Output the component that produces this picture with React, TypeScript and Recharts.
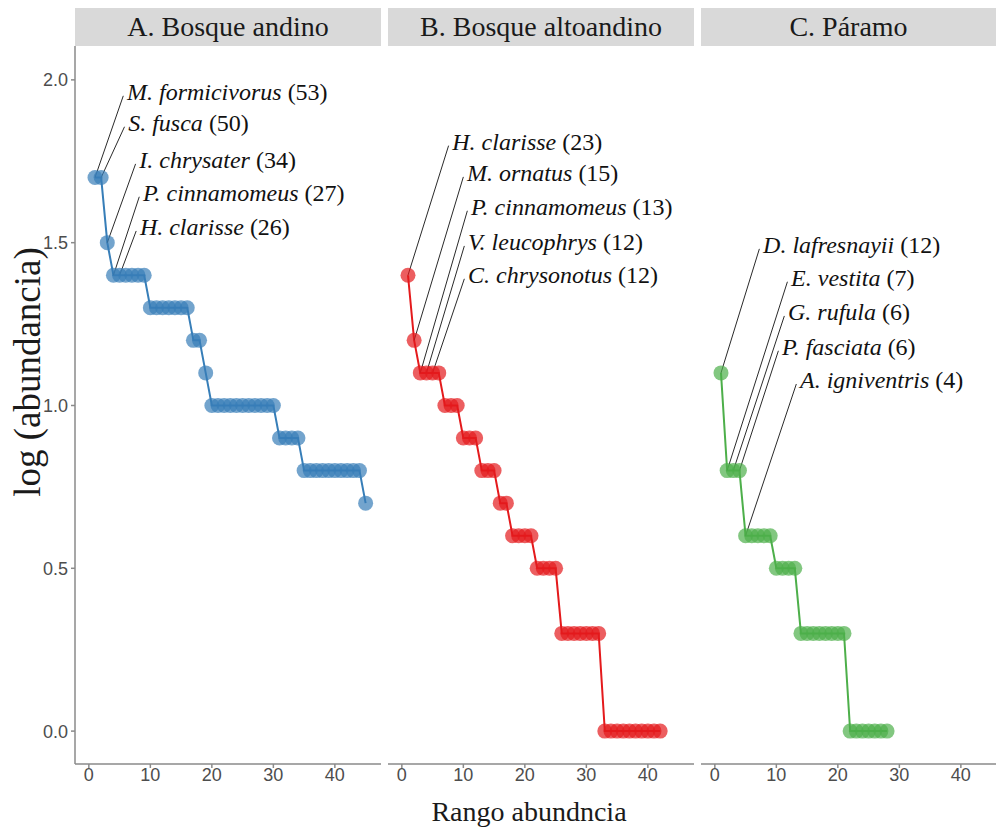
import React from 'react';
import { ComposedChart, Line, Scatter, XAxis, YAxis } from 'recharts';

// Panel A: Bosque andino — log10 abundance by rank (rank = position + 1)
const andinoValues = [
  1.7, 1.7, 1.5, 1.4, 1.4, 1.4, 1.4, 1.4, 1.4, 1.3,
  1.3, 1.3, 1.3, 1.3, 1.3, 1.3, 1.2, 1.2, 1.1, 1.0,
  1.0, 1.0, 1.0, 1.0, 1.0, 1.0, 1.0, 1.0, 1.0, 1.0,
  0.9, 0.9, 0.9, 0.9, 0.8, 0.8, 0.8, 0.8, 0.8, 0.8,
  0.8, 0.8, 0.8, 0.8, 0.7,
];

// Panel B: Bosque altoandino
const altoandinoValues = [
  1.4, 1.2, 1.1, 1.1, 1.1, 1.1, 1.0, 1.0, 1.0, 0.9,
  0.9, 0.9, 0.8, 0.8, 0.8, 0.7, 0.7, 0.6, 0.6, 0.6,
  0.6, 0.5, 0.5, 0.5, 0.5, 0.3, 0.3, 0.3, 0.3, 0.3,
  0.3, 0.3, 0.0, 0.0, 0.0, 0.0, 0.0, 0.0, 0.0, 0.0,
  0.0, 0.0,
];

// Panel C: Páramo
const paramoValues = [
  1.1, 0.8, 0.8, 0.8, 0.6, 0.6, 0.6, 0.6, 0.6, 0.5,
  0.5, 0.5, 0.5, 0.3, 0.3, 0.3, 0.3, 0.3, 0.3, 0.3,
  0.3, 0.0, 0.0, 0.0, 0.0, 0.0, 0.0, 0.0,
];

// Species labels: rank of the labelled point, label anchor (data coords)
const andinoLabels = [
  { name: 'M. formicivorus', count: 53, rank: 1, lx: 6.2, ly: 1.963 },
  { name: 'S. fusca', count: 50, rank: 2, lx: 6.4, ly: 1.868 },
  { name: 'I. chrysater', count: 34, rank: 3, lx: 8.2, ly: 1.754 },
  { name: 'P. cinnamomeus', count: 27, rank: 4, lx: 8.8, ly: 1.653 },
  { name: 'H. clarisse', count: 26, rank: 5, lx: 8.3, ly: 1.548 },
];

const altoandinoLabels = [
  { name: 'H. clarisse', count: 23, rank: 1, lx: 8.2, ly: 1.81 },
  { name: 'M. ornatus', count: 15, rank: 2, lx: 10.6, ly: 1.714 },
  { name: 'P. cinnamomeus', count: 13, rank: 3, lx: 11.25, ly: 1.61 },
  { name: 'V. leucophrys', count: 12, rank: 4, lx: 10.76, ly: 1.502 },
  { name: 'C. chrysonotus', count: 12, rank: 5, lx: 10.76, ly: 1.401 },
];

const paramoLabels = [
  { name: 'D. lafresnayii', count: 12, rank: 1, lx: 7.84, ly: 1.493 },
  { name: 'E. vestita', count: 7, rank: 2, lx: 12.4, ly: 1.392 },
  { name: 'G. rufula', count: 6, rank: 3, lx: 11.9, ly: 1.287 },
  { name: 'P. fasciata', count: 6, rank: 4, lx: 10.93, ly: 1.18 },
  { name: 'A. igniventris', count: 4, rank: 5, lx: 13.85, ly: 1.078 },
];

const panelTitles = ['A. Bosque andino', 'B. Bosque altoandino', 'C. Páramo'];
const xTicks = [0, 10, 20, 30, 40];
const yTicks = [0, 0.5, 1, 1.5, 2];
const xTitle = 'Rango abundncia';
const yTitle = 'log (abundancia)';

const X_DOMAIN: [number, number] = [-2.25, 47.5];
const Y_DOMAIN: [number, number] = [-0.101, 2.104];

const SERIF = '"Liberation Serif", "Times New Roman", serif';
const SANS = '"Liberation Sans", Arial, sans-serif';
const AXIS_GREY = '#8a8a8a';
const TICK_TEXT = '#4d4d4d';

const PLOT_W = 306;
const PLOT_TOP = 46;
const CHART_H = 829;
const X_AXIS_H = 65;

type Lab = { name: string; count: number; rank: number; lx: number; ly: number };

const renderLabel = (props: any) => {
  const { cx, cy } = props;
  const p = props.payload || props;
  if (cx == null || cy == null) return <g />;
  return (
    <text
      x={cx}
      y={cy}
      dy="0.35em"
      fill="#111"
      style={{ fontFamily: SERIF, fontSize: 24 }}
    >
      <tspan style={{ fontStyle: 'italic', fontFamily: SERIF }}>{p.name}</tspan>
      <tspan style={{ fontStyle: 'normal', fontFamily: SERIF }}>{` (${p.count})`}</tspan>
    </text>
  );
};

function Panel(props: {
  values: number[];
  labels: Lab[];
  color: string;
  showY: boolean;
  left: number;
  title: string;
  stripW: number;
}) {
  const { values, labels, color, showY, left, title, stripW } = props;
  const data = values.map((v, i) => ({ x: i + 1, y: v }));
  const labelData = labels.map((l) => ({ x: l.lx, y: l.ly, name: l.name, count: l.count }));
  const yW = showY ? 75 : 0;
  const width = yW + PLOT_W + 4;
  const chartLeft = left - yW;
  return (
    <>
      <div
        style={{
          position: 'absolute',
          left: left,
          top: 8,
          width: stripW,
          height: 38,
          background: '#d9d9d9',
          display: 'flex',
          alignItems: 'center',
          justifyContent: 'center',
          fontFamily: SERIF,
          fontSize: 28,
          color: '#1a1a1a',
          whiteSpace: 'nowrap',
        }}
      >
        {title}
      </div>
      <div style={{ position: 'absolute', left: chartLeft, top: 0 }}>
        <ComposedChart
          width={width}
          height={CHART_H}
          margin={{ top: PLOT_TOP, right: 4, bottom: 0, left: 0 }}
        >
          <XAxis
            type="number"
            dataKey="x"
            domain={X_DOMAIN}
            ticks={xTicks}
            allowDataOverflow
            height={X_AXIS_H}
            stroke={AXIS_GREY}
            strokeWidth={1.5}
            tickSize={4}
            tickMargin={0}
            tick={{ fill: TICK_TEXT, fontFamily: SANS, fontSize: 18 }}
          />
          <YAxis
            type="number"
            dataKey="y"
            domain={Y_DOMAIN}
            ticks={yTicks}
            allowDataOverflow
            hide={!showY}
            width={yW}
            stroke={AXIS_GREY}
            strokeWidth={1.5}
            tickSize={4}
            tickMargin={3}
            tickFormatter={(v: number) => v.toFixed(1)}
            tick={{ fill: TICK_TEXT, fontFamily: SANS, fontSize: 18 }}
          />
          <Line
            data={data}
            dataKey="y"
            type="linear"
            stroke={color}
            strokeWidth={2}
            dot={{ r: 7.5, fill: color, fillOpacity: 0.7, stroke: 'none', strokeWidth: 0 }}
            activeDot={false}
            isAnimationActive={false}
          />
          {labels.map((l, i) => (
            <Line
              key={'seg' + i}
              data={[
                { x: l.rank, y: values[l.rank - 1] },
                { x: l.lx - 0.6, y: l.ly - 0.012 },
              ]}
              dataKey="y"
              type="linear"
              stroke="#2a2a2a"
              strokeWidth={1}
              dot={false}
              activeDot={false}
              isAnimationActive={false}
            />
          ))}
          <Scatter
            data={labelData}
            dataKey="y"
            shape={renderLabel}
            isAnimationActive={false}
          />
        </ComposedChart>
      </div>
    </>
  );
}

export default function App() {
  return (
    <div
      style={{
        position: 'absolute',
        left: 0,
        top: 0,
        width: 996,
        height: 829,
        overflow: 'hidden',
        background: '#ffffff',
      }}
    >
      <Panel values={andinoValues} labels={andinoLabels} color="#377EB8" showY left={75} title={panelTitles[0]} stripW={306} />
      <Panel values={altoandinoValues} labels={altoandinoLabels} color="#E41A1C" showY={false} left={388} title={panelTitles[1]} stripW={306} />
      <Panel values={paramoValues} labels={paramoLabels} color="#4DAF4A" showY={false} left={701} title={panelTitles[2]} stripW={295} />
      <div
        style={{
          position: 'absolute',
          left: 529,
          top: 812,
          transform: 'translate(-50%, -50%)',
          fontFamily: SERIF,
          fontSize: 28,
          color: '#1a1a1a',
          whiteSpace: 'nowrap',
        }}
      >
        {xTitle}
      </div>
      <div
        style={{
          position: 'absolute',
          left: 27,
          top: 372,
          transform: 'translate(-50%, -50%) rotate(-90deg)',
          fontFamily: SERIF,
          fontSize: 37,
          color: '#1a1a1a',
          whiteSpace: 'nowrap',
        }}
      >
        {yTitle}
      </div>
    </div>
  );
}
